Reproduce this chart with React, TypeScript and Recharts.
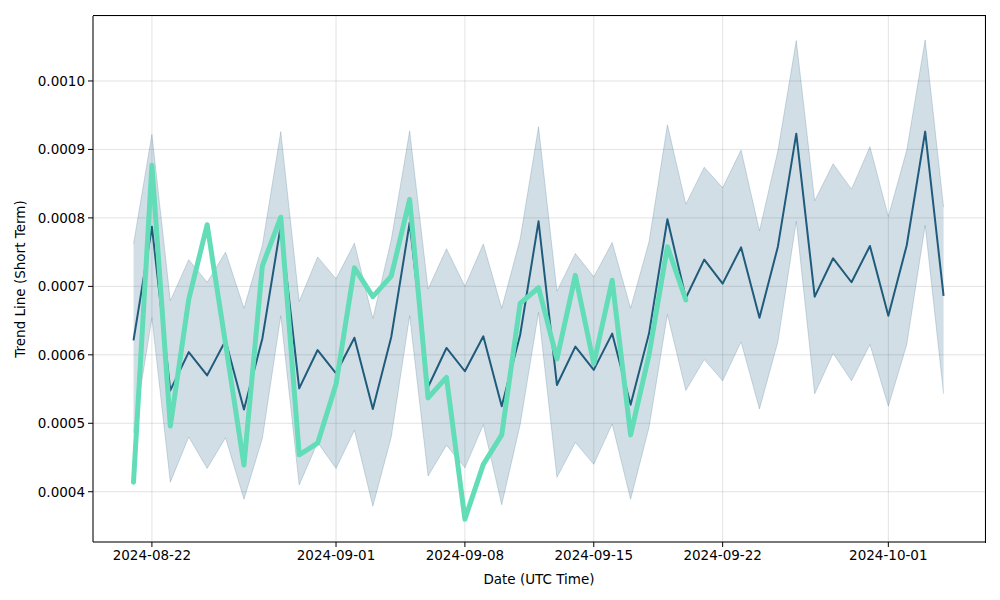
import { ComposedChart, Area, Line, XAxis, YAxis, CartesianGrid } from 'recharts'

const dates = [
  '2024-08-21', '2024-08-22', '2024-08-23', '2024-08-24', '2024-08-25', '2024-08-26', '2024-08-27', '2024-08-28', '2024-08-29',
  '2024-08-30', '2024-08-31', '2024-09-01', '2024-09-02', '2024-09-03', '2024-09-04', '2024-09-05', '2024-09-06', '2024-09-07',
  '2024-09-08', '2024-09-09', '2024-09-10', '2024-09-11', '2024-09-12', '2024-09-13', '2024-09-14', '2024-09-15',
  '2024-09-16', '2024-09-17', '2024-09-18', '2024-09-19', '2024-09-20', '2024-09-21', '2024-09-22', '2024-09-23', '2024-09-24',
  '2024-09-25', '2024-09-26', '2024-09-27', '2024-09-28', '2024-09-29', '2024-09-30', '2024-10-01', '2024-10-02', '2024-10-03', '2024-10-04',
]

// values in units of 1e-4
const trendMean = [
  6.21, 7.87, 5.48, 6.04, 5.70, 6.21, 5.20, 6.24, 7.89,
  5.51, 6.07, 5.73, 6.25, 5.21, 6.26, 7.93, 5.53, 6.10,
  5.76, 6.27, 5.25, 6.29, 7.95, 5.56, 6.12, 5.78,
  6.31, 5.27, 6.31, 7.98, 6.83, 7.39, 7.04, 7.57, 6.54,
  7.58, 9.23, 6.85, 7.41, 7.06, 7.59, 6.57, 7.60, 9.26, 6.86,
]

const bandUpper = [
  7.62, 9.22, 6.79, 7.39, 7.06, 7.50, 6.68, 7.60, 9.26,
  6.78, 7.43, 7.11, 7.63, 6.53, 7.68, 9.27, 6.96, 7.55,
  7.00, 7.62, 6.68, 7.69, 9.33, 6.93, 7.48, 7.14,
  7.64, 6.68, 7.65, 9.36, 8.20, 8.74, 8.44, 8.99, 7.81,
  8.98, 10.59, 8.25, 8.79, 8.42, 9.04, 8.02, 8.99, 10.60, 8.16,
]

const bandLower = [
  4.86, 6.54, 4.14, 4.80, 4.34, 4.79, 3.89, 4.78, 6.57,
  4.10, 4.72, 4.34, 4.90, 3.79, 4.80, 6.57, 4.23, 4.68,
  4.35, 4.98, 3.81, 4.98, 6.62, 4.21, 4.72, 4.40,
  4.99, 3.89, 4.94, 6.59, 5.48, 5.93, 5.62, 6.19, 5.21,
  6.19, 7.95, 5.43, 6.02, 5.62, 6.15, 5.25, 6.15, 7.89, 5.43,
]

// short-term actuals, stop at 2024-09-20
const actual = [
  4.14, 8.77, 4.96, 6.81, 7.90, 6.16, 4.39, 7.30, 8.01,
  4.54, 4.71, 5.57, 7.27, 6.85, 7.15, 8.27, 5.37, 5.67,
  3.60, 4.40, 4.83, 6.75, 6.98, 5.94, 7.16, 5.87,
  7.09, 4.83, 6.00, 7.58, 6.80,
]

const xTickLabels = ['2024-08-22', '2024-09-01', '2024-09-08', '2024-09-15', '2024-09-22', '2024-10-01']
const yTicks = [0.0004, 0.0005, 0.0006, 0.0007, 0.0008, 0.0009, 0.001]

const DAY = 86400000
const xStart = Date.parse(dates[0]) - 2.2 * DAY
const xEnd = Date.parse(dates[dates.length - 1]) + 2.25 * DAY

const data = dates.map((d, i) => ({
  t: Date.parse(d),
  mean: trendMean[i] * 1e-4,
  band: [bandLower[i] * 1e-4, bandUpper[i] * 1e-4],
  actual: i < actual.length ? actual[i] * 1e-4 : null,
}))

const DARK = '#1f5b7b'
const GREEN = '#62ddb8'
const FONT = '"DejaVu Sans", sans-serif'
const tickStyle = { fontSize: 13.5, fill: '#000', fontFamily: FONT }

const fmtDate = (t: number) => new Date(t).toISOString().slice(0, 10)

export default function App() {
  return (
    <div style={{ position: 'absolute', left: 0, top: 0, width: 1000, height: 600, background: '#fff' }}>
      <ComposedChart width={1000} height={600} data={data} margin={{ top: 16, right: 15, bottom: 0, left: 0 }}>
        <CartesianGrid stroke="#b0b0b0" strokeOpacity={0.35} strokeWidth={1} />
        <XAxis
          dataKey="t"
          type="number"
          scale="time"
          domain={[xStart, xEnd]}
          allowDataOverflow
          ticks={xTickLabels.map((s) => Date.parse(s))}
          tickFormatter={fmtDate}
          height={58}
          tick={tickStyle}
          tickSize={5}
          tickMargin={3}
          stroke="#000"
          axisLine={{ stroke: '#000', strokeWidth: 1 }}
          tickLine={{ stroke: '#000' }}
          label={{ value: 'Date (UTC Time)', position: 'insideBottom', offset: 16, style: { fontSize: 13.5, fill: '#000', fontFamily: FONT } }}
        />
        <YAxis
          type="number"
          domain={[0.0003266, 0.0010949]}
          allowDataOverflow
          ticks={yTicks}
          tickFormatter={(v: number) => v.toFixed(4)}
          width={93}
          tick={tickStyle}
          tickSize={5}
          tickMargin={3}
          axisLine={{ stroke: '#000', strokeWidth: 1 }}
          tickLine={{ stroke: '#000' }}
          label={{ value: 'Trend Line (Short Term)', angle: -90, position: 'insideLeft', offset: 20, style: { textAnchor: 'middle', fontSize: 13.5, fill: '#000', fontFamily: FONT } }}
        />
        <Area
          dataKey="band"
          type="linear"
          fill={DARK}
          fillOpacity={0.2}
          stroke={DARK}
          strokeOpacity={0.2}
          strokeWidth={1}
          isAnimationActive={false}
          activeDot={false}
        />
        <Line dataKey="mean" type="linear" stroke={DARK} strokeWidth={2} dot={false} isAnimationActive={false} strokeLinejoin="round" />
        <Line
          dataKey="actual"
          type="linear"
          stroke={GREEN}
          strokeWidth={5}
          dot={false}
          isAnimationActive={false}
          strokeLinejoin="round"
          strokeLinecap="round"
        />
      </ComposedChart>
      {/* top and right spines */}
      <div
        style={{
          position: 'absolute',
          left: 93,
          top: 15,
          width: 892,
          height: 527,
          borderTop: '1px solid #000',
          borderRight: '1px solid #000',
          pointerEvents: 'none',
        }}
      />
    </div>
  )
}
